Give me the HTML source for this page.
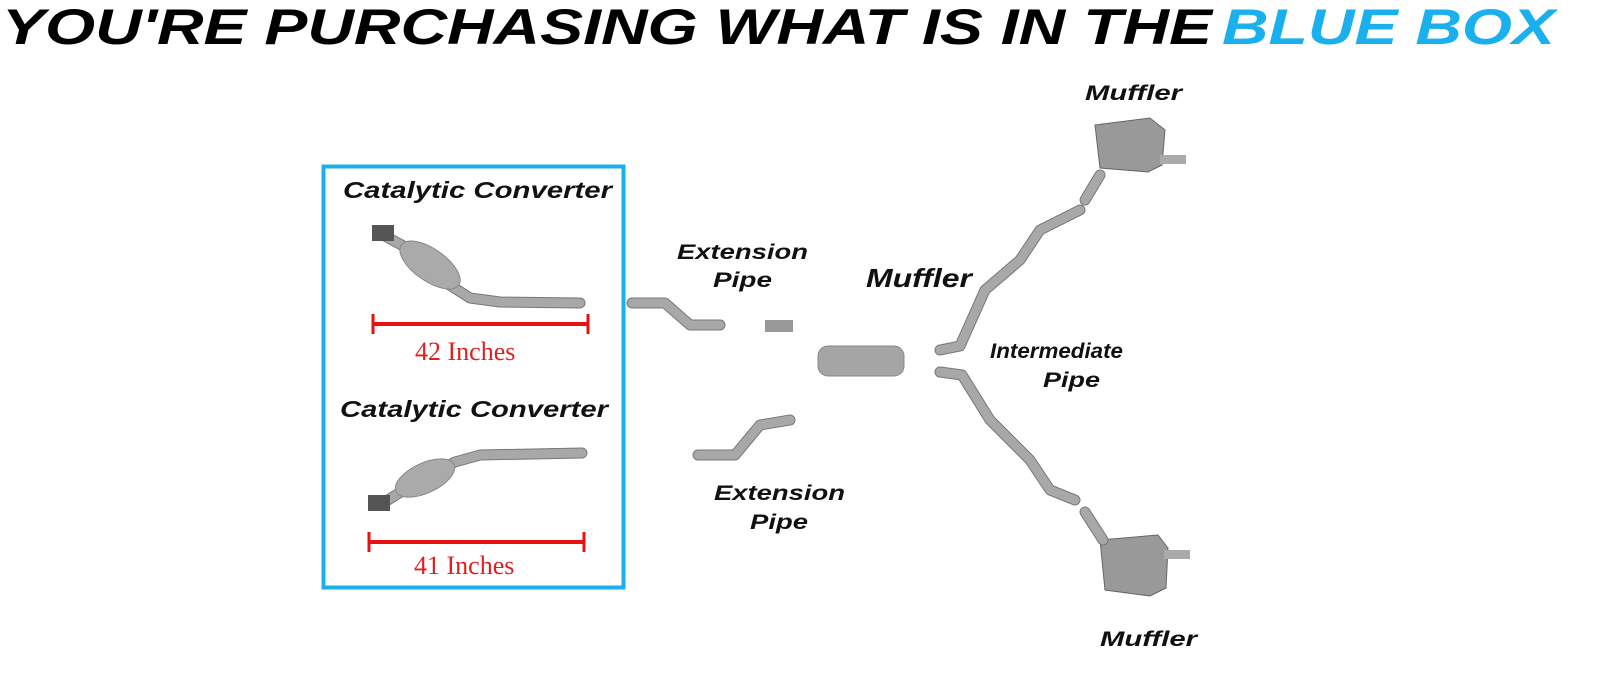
<!DOCTYPE html>
<html><head><meta charset="utf-8"><style>
html,body{margin:0;padding:0;background:#fff;width:1600px;height:685px;overflow:hidden}
svg{display:block}
.h{font-family:"Liberation Sans",sans-serif;font-weight:bold;font-style:italic}
.l{font-family:"Liberation Sans",sans-serif;font-weight:bold;font-style:italic;fill:#111}
.r{font-family:"Liberation Serif",serif;fill:#e02020;font-size:26px}
.p{fill:none;stroke:#a8a8a8;stroke-width:9;stroke-linecap:round;stroke-linejoin:round}
.po{fill:none;stroke:#777;stroke-width:11;stroke-linecap:round;stroke-linejoin:round}
</style></head><body>
<svg width="1600" height="685" viewBox="0 0 1600 685">
<text class="h" x="2" y="44" font-size="50" textLength="1210" lengthAdjust="spacingAndGlyphs" fill="#000">YOU'RE PURCHASING WHAT IS IN THE</text>
<text class="h" x="1222" y="44" font-size="50" textLength="333" lengthAdjust="spacingAndGlyphs" fill="#1ab0ee">BLUE BOX</text>
<rect x="323.5" y="166.5" width="300" height="421" fill="none" stroke="#1ab0ee" stroke-width="4"/>
<text class="l" x="343" y="198" font-size="23" textLength="269" lengthAdjust="spacingAndGlyphs">Catalytic Converter</text>
<text class="l" x="340" y="417" font-size="23" textLength="268" lengthAdjust="spacingAndGlyphs">Catalytic Converter</text>
<g><path class="po" d="M385 236 L420 255 L445 282 L470 298 L500 302 L580 303"/><path class="p" d="M385 236 L420 255 L445 282 L470 298 L500 302 L580 303"/>
<rect x="372" y="225" width="22" height="16" fill="#555"/><ellipse cx="430" cy="265" rx="35" ry="16" transform="rotate(35 430 265)" fill="#aaa" stroke="#888"/></g>
<line x1="373" y1="324" x2="588" y2="324" stroke="#e81010" stroke-width="4"/><line x1="373" y1="314" x2="373" y2="334" stroke="#e81010" stroke-width="3"/><line x1="588" y1="314" x2="588" y2="334" stroke="#e81010" stroke-width="3"/>
<text class="r" x="415" y="360">42 Inches</text>
<g><path class="po" d="M380 505 L420 480 L455 462 L480 455 L582 453"/><path class="p" d="M380 505 L420 480 L455 462 L480 455 L582 453"/>
<rect x="368" y="495" width="22" height="16" fill="#555"/><ellipse cx="425" cy="478" rx="32" ry="15" transform="rotate(-25 425 478)" fill="#aaa" stroke="#888"/></g>
<line x1="369" y1="542" x2="584" y2="542" stroke="#e81010" stroke-width="4"/><line x1="369" y1="532" x2="369" y2="552" stroke="#e81010" stroke-width="3"/><line x1="584" y1="532" x2="584" y2="552" stroke="#e81010" stroke-width="3"/>
<text class="r" x="414" y="574">41 Inches</text>
<path class="po" d="M632 303 L665 303 L690 325 L720 325"/><path class="p" d="M632 303 L665 303 L690 325 L720 325"/>
<rect x="765" y="320" width="28" height="12" fill="#999"/>
<path class="po" d="M698 455 L735 455 L760 425 L790 420"/><path class="p" d="M698 455 L735 455 L760 425 L790 420"/>
<text class="l" x="677" y="259" font-size="21" textLength="131" lengthAdjust="spacingAndGlyphs">Extension</text><text class="l" x="713" y="287" font-size="21" textLength="59" lengthAdjust="spacingAndGlyphs">Pipe</text>
<text class="l" x="714" y="500" font-size="21" textLength="131" lengthAdjust="spacingAndGlyphs">Extension</text><text class="l" x="750" y="529" font-size="21" textLength="58" lengthAdjust="spacingAndGlyphs">Pipe</text>
<rect x="818" y="346" width="86" height="30" rx="10" fill="#a5a5a5" stroke="#888"/>
<text class="l" x="866" y="287" font-size="26" textLength="106" lengthAdjust="spacingAndGlyphs">Muffler</text>
<text class="l" x="990" y="358" font-size="21" textLength="133" lengthAdjust="spacingAndGlyphs">Intermediate</text><text class="l" x="1043" y="387" font-size="21" textLength="57" lengthAdjust="spacingAndGlyphs">Pipe</text>
<path class="po" d="M940 350 L960 346 L985 290 L1020 260 L1040 230 L1080 210"/><path class="p" d="M940 350 L960 346 L985 290 L1020 260 L1040 230 L1080 210"/>
<path class="po" d="M940 372 L962 375 L990 420 L1030 460 L1050 490 L1075 500"/><path class="p" d="M940 372 L962 375 L990 420 L1030 460 L1050 490 L1075 500"/>
<path d="M1095 125 L1150 118 L1165 130 L1162 165 L1148 172 L1100 168 Z" fill="#999" stroke="#666"/><rect x="1160" y="155" width="26" height="9" fill="#aaa"/>
<path class="po" d="M1085 200 L1100 175"/><path class="p" d="M1085 200 L1100 175"/>
<path d="M1100 540 L1158 535 L1168 548 L1166 588 L1150 596 L1105 590 Z" fill="#999" stroke="#666"/><rect x="1164" y="550" width="26" height="9" fill="#aaa"/>
<path class="po" d="M1085 512 L1103 540"/><path class="p" d="M1085 512 L1103 540"/>
<text class="l" x="1085" y="100" font-size="21" textLength="97" lengthAdjust="spacingAndGlyphs">Muffler</text>
<text class="l" x="1100" y="646" font-size="21" textLength="97" lengthAdjust="spacingAndGlyphs">Muffler</text>
</svg>
</body></html>
